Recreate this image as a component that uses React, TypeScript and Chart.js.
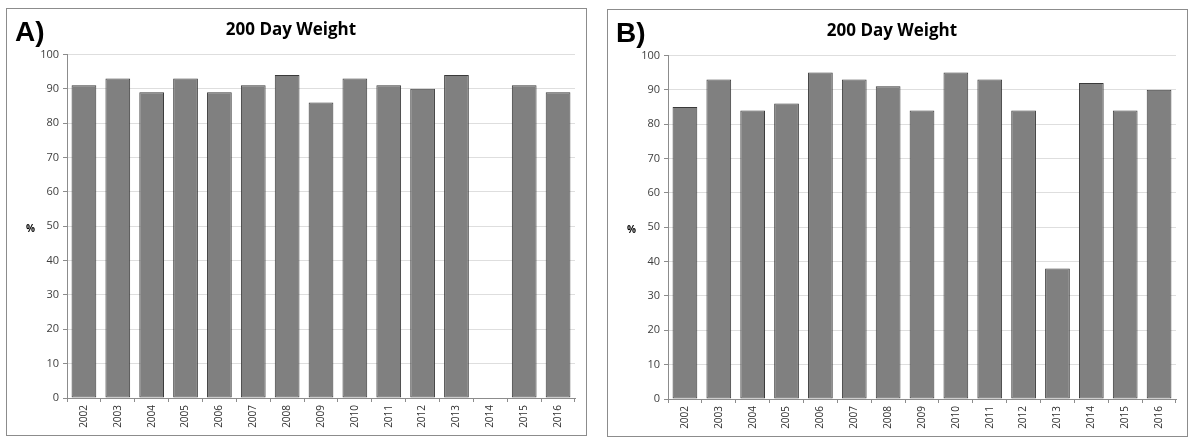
import React, { useEffect, useRef } from "react";
import { Chart, registerables } from "chart.js";

Chart.register(...registerables);

const years = ["2002", "2003", "2004", "2005", "2006", "2007", "2008", "2009", "2010", "2011", "2012", "2013", "2014", "2015", "2016"];
const weightA: (number | null)[] = [91, 93, 89, 93, 89, 91, 94, 86, 93, 91, 90, 94, null, 91, 89];
const weightB: (number | null)[] = [85, 93, 84, 86, 95, 93, 91, 84, 95, 93, 84, 38, 92, 84, 90];
const yTicks = [0, 10, 20, 30, 40, 50, 60, 70, 80, 90, 100];
const chartTitle = "200 Day Weight";

function Panel({ data, letter, left, top }: { data: (number | null)[]; letter: string; left: number; top: number }) {
  const ref = useRef<HTMLCanvasElement | null>(null);
  useEffect(() => {
    if (!ref.current) return;
    const chart = new Chart(ref.current, {
      type: "bar",
      data: {
        labels: years,
        datasets: [
          {
            data,
            backgroundColor: "#808080",
            borderColor: "#3a3a3a",
            borderWidth: 1,
            borderSkipped: false,
            categoryPercentage: 1,
            barPercentage: 0.73,
          },
        ],
      },
      options: {
        animation: false,
        responsive: false,
        maintainAspectRatio: false,
        layout: { padding: { left: 0, right: 11, top: 0, bottom: 0 } },
        plugins: {
          legend: { display: false },
          tooltip: { enabled: false },
          title: {
            display: true,
            text: chartTitle,
            color: "#000000",
            font: { family: "Open Sans", size: 17, weight: "bold" },
            padding: { top: 11, bottom: 14 },
          },
        },
        scales: {
          x: {
            offset: true,
            grid: {
              offset: true,
              drawOnChartArea: false,
              drawTicks: true,
              tickLength: 4,
              tickColor: "#8c8c8c",
            },
            border: { color: "#8c8c8c", width: 1 },
            ticks: {
              color: "#303030",
              font: { family: "Open Sans", size: 10 },
              minRotation: 90,
              maxRotation: 90,
              padding: 3,
              autoSkip: false,
            },
            afterFit: (s: any) => {
              s.height = 37;
            },
          },
          y: {
            min: 0,
            max: 100,
            afterBuildTicks: (s: any) => {
              s.ticks = yTicks.map((v) => ({ value: v }));
            },
            grid: {
              color: "#dedede",
              tickColor: "#8c8c8c",
              tickLength: 4,
            },
            border: { color: "#8c8c8c", width: 1 },
            ticks: {
              color: "#404040",
              font: { family: "Open Sans", size: 11 },
              padding: 4,
            },
            afterFit: (s: any) => {
              s.width = 60;
            },
          },
        },
      },
    });
    return () => chart.destroy();
  }, []);
  return (
    <div
      style={{
        position: "absolute",
        left,
        top,
        width: 581,
        height: 428,
        boxSizing: "border-box",
        border: "1px solid #8c8c8c",
        background: "#ffffff",
      }}
    >
      <canvas ref={ref} width={579} height={426} style={{ display: "block", width: 579, height: 426 }} />
      <div
        style={{
          position: "absolute",
          left: 8,
          top: 9,
          fontFamily: "Liberation Sans, Arial, sans-serif",
          fontWeight: "bold",
          fontSize: 28,
          lineHeight: "28px",
          color: "#000000",
        }}
      >
        {letter}
      </div>
      <div
        style={{
          position: "absolute",
          left: 19,
          top: 213,
          fontFamily: "Open Sans, sans-serif",
          fontWeight: "bold",
          fontSize: 10,
          lineHeight: "12px",
          color: "#000000",
        }}
      >
        %
      </div>
    </div>
  );
}

export default function App() {
  return (
    <div style={{ position: "absolute", left: 0, top: 0, width: 1200, height: 445, background: "#ffffff" }}>
      <Panel data={weightA} letter="A)" left={6} top={8} />
      <Panel data={weightB} letter="B)" left={607} top={9} />
    </div>
  );
}
